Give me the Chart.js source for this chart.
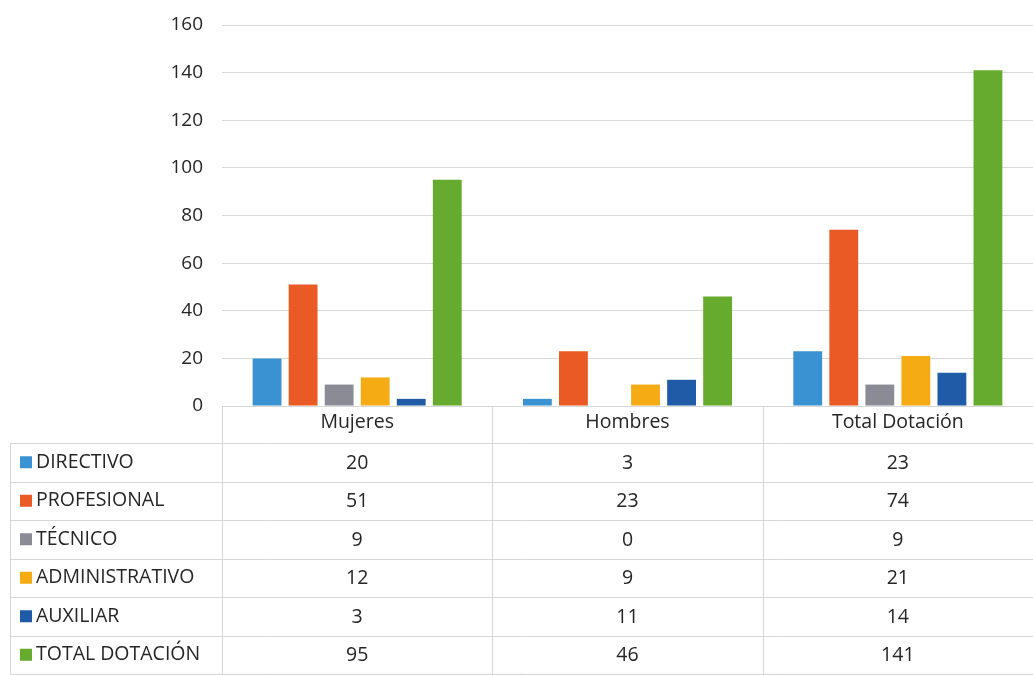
<!DOCTYPE html>
<html lang="es">
<head>
<meta charset="utf-8">
<title>Dotación por estamento</title>
<script src="https://cdn.jsdelivr.net/npm/chart.js@4.4.1/dist/chart.umd.min.js"></script>
<style>
  html, body { margin: 0; padding: 0; background: #fff; overflow: hidden; }
  #wrap { width: 1033px; height: 675px; }
</style>
</head>
<body>
<div id="wrap"><canvas id="dotacionChart" width="1033" height="675"></canvas></div>
<script>
const grupos = ["Mujeres", "Hombres", "Total Dotación"];
const estamentos = ["DIRECTIVO", "PROFESIONAL", "TÉCNICO", "ADMINISTRATIVO", "AUXILIAR", "TOTAL DOTACIÓN"];
const directivo = [20, 3, 23];
const profesional = [51, 23, 74];
const tecnico = [9, 0, 9];
const administrativo = [12, 9, 21];
const auxiliar = [3, 11, 14];
const totalDotacion = [95, 46, 141];
const colores = ["#3b92d3", "#ea5a24", "#8b8b95", "#f5ab14", "#1f5ba7", "#66ab2d"];
const yTicks = [0, 20, 40, 60, 80, 100, 120, 140, 160];

const series = [directivo, profesional, tecnico, administrativo, auxiliar, totalDotacion];
const FONT = "'Open Sans', 'Liberation Sans', sans-serif";
const TEXT = "#262626";
const LINE = "#d6d6d6";
const ROW_H = 38.5;

// tabla de datos bajo el eje X, alineada con las categorías
const dataTable = {
    id: "dataTable",
    afterDraw(chart) {
        const ctx = chart.ctx;
        const x = chart.scales.x;
        const area = chart.chartArea;
        const n = chart.data.labels.length;
        const step = (area.right - area.left) / n;
        const top = area.bottom + 37;
        const left = 10;

        ctx.save();
        ctx.strokeStyle = LINE;
        ctx.lineWidth = 1;

        // línea del eje y divisiones de columna
        ctx.beginPath();
        ctx.moveTo(area.left, area.bottom + 0.5);
        ctx.lineTo(area.right, area.bottom + 0.5);
        for (let c = 0; c <= n; c++) {
            const cx = Math.round(area.left + c * step) + 0.5;
            ctx.moveTo(cx, area.bottom);
            ctx.lineTo(cx, top + ROW_H * series.length);
        }
        ctx.moveTo(left + 0.5, top);
        ctx.lineTo(left + 0.5, top + ROW_H * series.length);
        for (let r = 0; r <= series.length; r++) {
            const ry = Math.round(top + r * ROW_H) + 0.5;
            ctx.moveTo(left, ry);
            ctx.lineTo(area.right, ry);
        }
        ctx.stroke();

        ctx.font = "19.5px " + FONT;
        ctx.textBaseline = "middle";
        chart.data.datasets.forEach((ds, r) => {
            const cy = top + r * ROW_H + ROW_H / 2;
            ctx.fillStyle = ds.backgroundColor;
            ctx.fillRect(20, cy - 6, 12, 12);
            ctx.fillStyle = TEXT;
            ctx.textAlign = "left";
            ctx.fillText(ds.label, 36, cy);
            ctx.textAlign = "center";
            ds.data.forEach((v, c) => {
                ctx.fillText(String(v), x.getPixelForValue(c), cy + 1);
            });
        });
        ctx.restore();
    }
};

new Chart(document.getElementById("dotacionChart").getContext("2d"), {
    type: "bar",
    data: {
        labels: grupos,
        datasets: estamentos.map((nombre, i) => ({
            label: nombre,
            data: series[i],
            backgroundColor: colores[i],
            categoryPercentage: 0.8,
            barPercentage: 0.8
        }))
    },
    options: {
        responsive: false,
        animation: false,
        layout: { padding: { top: 25, left: 0, right: 0, bottom: 0 } },
        plugins: {
            legend: { display: false },
            tooltip: { enabled: false }
        },
        scales: {
            x: {
                grid: { display: false, drawTicks: false },
                border: { display: false },
                ticks: { color: TEXT, font: { family: FONT, size: 19.5 }, padding: 5 },
                afterFit(scale) { scale.height = 269; }
            },
            y: {
                min: 0,
                max: 160,
                afterBuildTicks(scale) { scale.ticks = yTicks.map(v => ({ value: v })); },
                grid: { color: "#d9d9d9", drawTicks: false },
                border: { display: false },
                ticks: { color: TEXT, font: { family: FONT, size: 19 }, padding: 19 },
                afterFit(scale) {
                    scale.width = 222;
                    scale.paddingTop = 0;
                    scale.paddingBottom = 0;
                }
            }
        }
    },
    plugins: [dataTable]
});
</script>
</body>
</html>
